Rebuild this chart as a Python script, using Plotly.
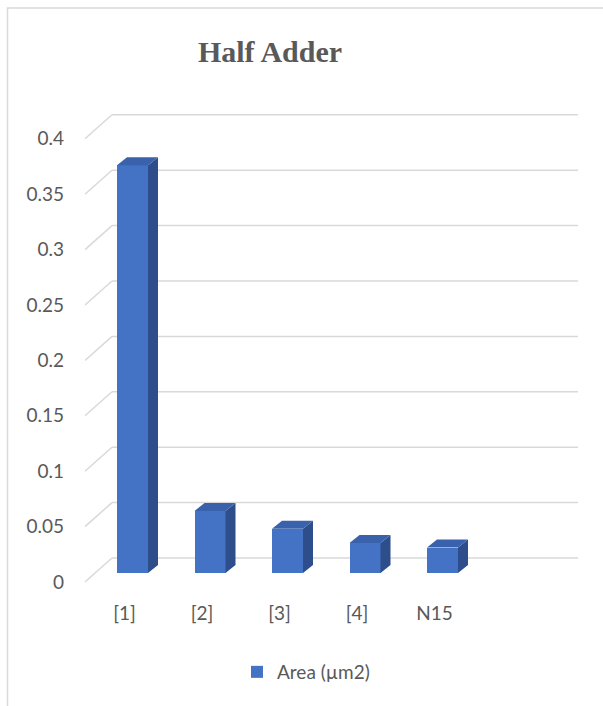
import plotly.graph_objects as go

# ---- data ----
categories = ["[1]", "[2]", "[3]", "[4]", "N15"]
area_values = [0.368, 0.056, 0.040, 0.027, 0.023]
y_ticks = [0, 0.05, 0.1, 0.15, 0.2, 0.25, 0.3, 0.35, 0.4]
y_tick_text = ["0", "0.05", "0.1", "0.15", "0.2", "0.25", "0.3", "0.35", "0.4"]
series_name = "Area (µm2)"

# ---- geometry (pixel based helpers) ----
W, H = 603, 706
L, R, T, B = 85, 580, 105, 590          # plot area in px
PX_X = 77.5                              # px per category
PX_Y = 1108.0                            # px per value unit
X0_PX = 132.5                            # px of category 0 centre
Y0_PX = 573.0                            # px of value 0 (bar plane)

def xd(px):
    return (px - X0_PX) / PX_X

BAR_W = 31 / PX_X
DEPTH_X = 10 / PX_X
DEPTH_Y = 8 / PX_Y
FRONT_OFF = -9 / PX_Y      # label plane sits 9px below bar plane
BACK_OFF = 15 / PX_Y       # back wall sits 15px above bar plane

FRONT_C = "#4472C4"
TOP_C = "#3A62AC"
SIDE_C = "#2D4E8B"
GRID_C = "#D9D9D9"
TEXT_C = "#595959"
FONT = "Lato"

idx = list(range(len(categories)))

fig = go.Figure()
fig.add_trace(go.Bar(
    x=idx, y=area_values, width=BAR_W, name=series_name,
    marker=dict(color=FRONT_C, line=dict(width=0)),
    showlegend=True, hoverinfo="y",
))

for i, v in zip(idx, area_values):
    xl, xr = i - BAR_W / 2, i + BAR_W / 2
    # side face
    fig.add_trace(go.Scatter(
        x=[xr, xr + DEPTH_X, xr + DEPTH_X, xr, xr],
        y=[0, DEPTH_Y, v + DEPTH_Y, v, 0],
        fill="toself", fillcolor=SIDE_C, mode="lines",
        line=dict(width=0, color=SIDE_C), showlegend=False, hoverinfo="skip"))
    # top face
    fig.add_trace(go.Scatter(
        x=[xl, xr, xr + DEPTH_X, xl + DEPTH_X, xl],
        y=[v, v, v + DEPTH_Y, v + DEPTH_Y, v],
        fill="toself", fillcolor=TOP_C, mode="lines",
        line=dict(width=0, color=TOP_C), showlegend=False, hoverinfo="skip"))

shapes = []
x_front = xd(85)
x_back = xd(112)
x_end = xd(578)
for v in y_ticks:
    shapes.append(dict(type="line", xref="x", yref="y", layer="below",
                       x0=x_front, y0=v + FRONT_OFF, x1=x_back, y1=v + BACK_OFF,
                       line=dict(color=GRID_C, width=1.5)))
    shapes.append(dict(type="line", xref="x", yref="y", layer="below",
                       x0=x_back, y0=v + BACK_OFF, x1=x_end, y1=v + BACK_OFF,
                       line=dict(color=GRID_C, width=1.5)))

# chart-area border (top and left visible)
def px_to_paper_x(px):
    return (px - L) / (R - L)

def px_to_paper_y(py):
    return (B - py) / (B - T)

shapes.append(dict(type="rect", xref="paper", yref="paper", layer="below",
                   x0=px_to_paper_x(7.5), y0=px_to_paper_y(730),
                   x1=px_to_paper_x(640), y1=px_to_paper_y(8),
                   line=dict(color="#D9D9D9", width=1.5), fillcolor="rgba(0,0,0,0)"))

fig.update_layout(
    width=W, height=H,
    margin=dict(l=L, r=W - R, t=T, b=H - B, pad=0),
    paper_bgcolor="white", plot_bgcolor="white",
    shapes=shapes,
    bargap=0,
    title=dict(text="<b>Half Adder</b>", x=270 / W, xanchor="center",
               xref="container", yref="container", y=1 - 51 / H, yanchor="middle",
               font=dict(family="Liberation Serif", size=30, color=TEXT_C)),
    xaxis=dict(range=[xd(L), xd(R)], tickvals=idx, ticktext=categories,
               showgrid=False, zeroline=False, showline=False, ticks="",
               ticklabelshift=-8, ticklabelstandoff=10,
               tickfont=dict(family=FONT, size=19, color=TEXT_C), fixedrange=True),
    yaxis=dict(range=[(Y0_PX - B) / PX_Y, (Y0_PX - T) / PX_Y],
               tickvals=[v + FRONT_OFF for v in y_ticks], ticktext=y_tick_text,
               showgrid=False, zeroline=False, showline=False, ticks="",
               ticklabelstandoff=20,
               tickfont=dict(family=FONT, size=19, color=TEXT_C), fixedrange=True),
    legend=dict(orientation="h", x=px_to_paper_x(306), xanchor="center",
                y=px_to_paper_y(672), yanchor="middle",
                font=dict(family=FONT, size=19, color=TEXT_C),
                bgcolor="rgba(0,0,0,0)", itemwidth=30),
    showlegend=True,
)

fig.write_html("out.html")
